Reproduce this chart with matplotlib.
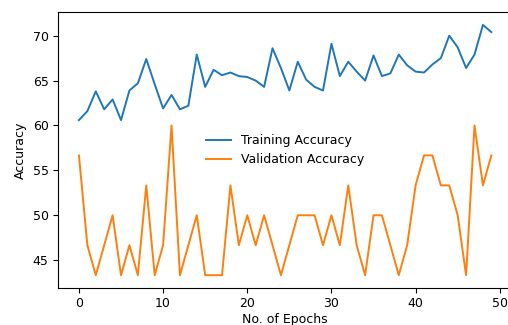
import matplotlib.pyplot as plt

# accuracy per epoch (%), 50 epochs
epochs = list(range(50))
train_acc = [60.6, 61.6, 63.8, 61.8, 62.9, 60.6, 63.9, 64.7, 67.4, 64.6,
             61.9, 63.4, 61.8, 62.2, 67.9, 64.3, 66.2, 65.6, 65.9, 65.5,
             65.4, 65.0, 64.3, 68.6, 66.4, 63.9, 67.1, 65.1, 64.3, 63.9,
             69.1, 65.5, 67.1, 66.0, 65.0, 67.8, 65.5, 65.8, 67.9, 66.7,
             66.0, 65.9, 66.8, 67.5, 70.0, 68.7, 66.4, 67.9, 71.2, 70.4]
val_acc = [56.67, 46.67, 43.33, 46.67, 50.00, 43.33, 46.67, 43.33, 53.33, 43.33,
           46.67, 60.00, 43.33, 46.67, 50.00, 43.33, 43.33, 43.33, 53.33, 46.67,
           50.00, 46.67, 50.00, 46.67, 43.33, 46.67, 50.00, 50.00, 50.00, 46.67,
           50.00, 46.67, 53.33, 46.67, 43.33, 50.00, 50.00, 46.67, 43.33, 46.67,
           53.33, 56.67, 56.67, 53.33, 53.33, 50.00, 43.33, 60.00, 53.33, 56.67]

plt.rcParams['font.size'] = 9
fig = plt.figure(figsize=(5.08, 3.25), dpi=100)
# axes run a little past the right edge of the canvas
ax = fig.add_axes([0.1148, 0.1148, 0.893, 0.847])
ax.spines['right'].set_visible(False)

ax.plot(epochs, train_acc, color='#1f77b4', lw=1.4, label='Training Accuracy')
ax.plot(epochs, val_acc, color='#ff7f0e', lw=1.4, label='Validation Accuracy')
ax.set_xlabel('No. of Epochs', labelpad=2)
ax.set_ylabel('Accuracy')
ax.legend(loc='center', frameon=False)

fig.savefig('out.png')
